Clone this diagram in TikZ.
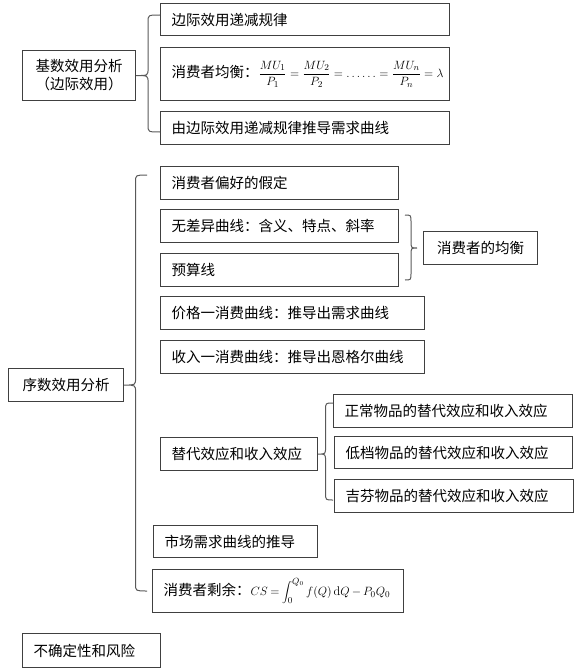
\documentclass[tikz,border=0pt]{standalone}
\usepackage{fontspec}
\newfontfamily\cjk{Noto Sans CJK SC}
\usetikzlibrary{calc}
\definecolor{boxc}{gray}{0.25}
\definecolor{bracec}{gray}{0.35}
\newcommand\mybrace[3]{\draw[bracestyle] let \p1=(#1),\p2=(#2),\p3=(#3),\n1={(\x1+\x2)/2} in (\p1) .. controls (\n1,\y1) .. (\n1,\y1-7pt) -- (\n1,\y2+7pt) .. controls (\n1,\y2) .. (\p2) .. controls (\n1,\y2) .. (\n1,\y2-7pt) -- (\n1,\y3+7pt) .. controls (\n1,\y3) .. (\p3);}
\newcommand\mathsz{\fontsize{12.5}{15}\selectfont}
\begin{document}
\begin{tikzpicture}[x=1pt,y=-1pt,
  box/.style={draw=boxc, line width=1.1pt, inner xsep=11pt, inner ysep=0pt, anchor=north west, align=left, font=\cjk\fontsize{14.5}{18}\selectfont},
  cbox/.style={box, align=center},
  bracestyle/.style={draw=bracec, line width=1pt}]
\useasboundingbox (0,0) rectangle (576,669);
% cardinal utility
\node[cbox, text width=91pt, minimum height=50pt] (card) at (22,50) {基数效用分析\\（边际效用）};
\node[box, text width=267pt, minimum height=32pt] (b1) at (160,3) {边际效用递减规律};
\node[box, text width=267pt, minimum height=53pt] (b2) at (160,47) {消费者均衡：\mbox{\mathsz$\displaystyle \frac{MU_1}{P_1}=\frac{MU_2}{P_2}=\ldots\ldots=\frac{MU_n}{P_n}=\lambda$}};
\node[box, text width=267pt, minimum height=33pt] (b3) at (160,111) {由边际效用递减规律推导需求曲线};
% ordinal utility
\node[box, text width=216pt, minimum height=33pt] (c1) at (160,166) {消费者偏好的假定};
\node[box, text width=216pt, minimum height=33pt] (c2) at (160,209) {无差异曲线：含义、特点、斜率};
\node[box, text width=216pt, minimum height=33pt] (c3) at (160,253) {预算线};
\node[cbox, text width=92pt, minimum height=33pt] (eq) at (423,231) {消费者的均衡};
\node[box, text width=242pt, minimum height=33pt] (c4) at (160,296) {价格一消费曲线：推导出需求曲线};
\node[box, text width=242pt, minimum height=33pt] (c5) at (160,340) {收入一消费曲线：推导出恩格尔曲线};
\node[cbox, text width=93pt, minimum height=33pt] (ord) at (8,368) {序数效用分析};
\node[box, text width=135pt, minimum height=33pt] (c6) at (160,437) {替代效应和收入效应};
\node[box, text width=217pt, minimum height=33pt] (s1) at (333,394) {正常物品的替代效应和收入效应};
\node[box, text width=216pt, minimum height=32pt] (s2) at (334,436) {低档物品的替代效应和收入效应};
\node[box, text width=217pt, minimum height=33pt] (s3) at (334,479) {吉芬物品的替代效应和收入效应};
\node[box, text width=142pt, minimum height=32pt] (c7) at (153,525) {市场需求曲线的推导};
\node[box, text width=229pt, minimum height=43pt] (c8) at (152,569) {消费者剩余：\mbox{\mathsz\thickmuskip=4mu\medmuskip=3mu$\displaystyle CS=\int_0^{Q_0} f(Q)\,\mathrm{d}Q-P_0Q_0$}};
\node[box, text width=116pt, minimum height=34pt] (unc) at (22,633) {不确定性和风险};
% brace end points
\coordinate (a1) at (160,15);
\coordinate (z1) at (160,132);
\coordinate (a2) at (147,175);
\coordinate (z2) at (147,591);
\coordinate (a3) at (405,215);
\coordinate (t3) at (417,248);
\coordinate (z3) at (405,280);
\coordinate (a4) at (333,403);
\coordinate (z4) at (333,500);
\mybrace{a1}{card.east}{z1}
\mybrace{a2}{ord.east}{z2}
\mybrace{a3}{t3}{z3}
\mybrace{a4}{c6.east}{z4}
\end{tikzpicture}
\end{document}
